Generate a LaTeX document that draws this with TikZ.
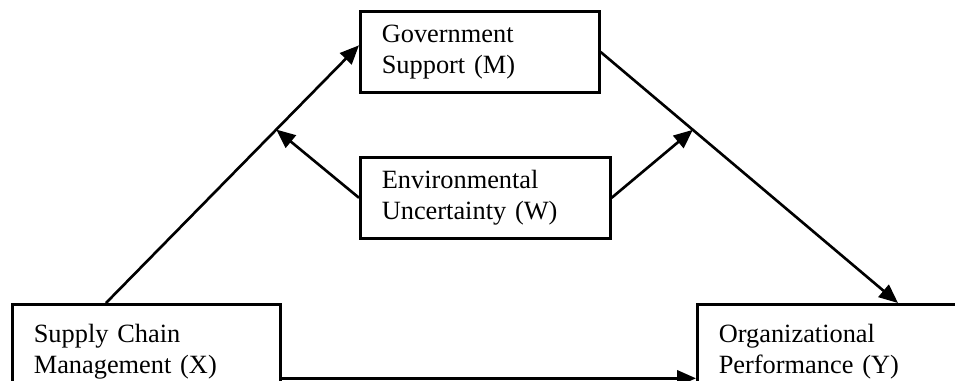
\documentclass[tikz,border=0pt]{standalone}
\usepackage{fontspec}
\setmainfont{Liberation Serif}
\usetikzlibrary{arrows.meta, positioning, calc}
\tikzstyle{boxNode} = [rectangle, draw=black, line width=1.5pt, anchor=north west, align=left, inner xsep=0.43cm, font=\fontsize{15}{17.6}\selectfont]
\tikzstyle{arrow} = [line width=1.5pt, -{Triangle[length=0.38cm,width=0.32cm]}, draw=black]

\begin{document}
\begin{tikzpicture}
        \useasboundingbox (0,0) rectangle (19.1,7.62);
        \clip (0,0) rectangle (19.1,7.62);
        \node (scm) [boxNode, minimum width=5.36cm, minimum height=1.88cm, text width=4.5cm] at (0.22,1.56)
            {Supply Chain\\Management (X)};
        \node (perf) [boxNode, minimum width=5.68cm, minimum height=1.88cm, text width=4.82cm] at (13.92,1.56)
            {Organizational\\Performance (Y)};
        \node (gov) [boxNode, minimum width=4.78cm, minimum height=1.62cm, text width=3.92cm] at (7.18,7.42)
            {Government\\Support (M)};
        \node (env) [boxNode, minimum width=5.0cm, minimum height=1.62cm, text width=4.14cm] at (7.18,4.5)
            {Environmental\\Uncertainty (W)};

        \coordinate (aStart) at ([xshift=1.9cm]scm.north west);
        \coordinate (aEnd) at ([yshift=0.13cm]gov.west);
        \coordinate (bStart) at ([yshift=-0.84cm]gov.north east);
        \coordinate (bEnd) at ([xshift=4.04cm]perf.north west);
        \coordinate (modA) at ($(aStart)!0.673!(aEnd)$);
        \coordinate (modB) at ($(bStart)!0.31!(bEnd)$);

        \draw [arrow] (aStart) -- (aEnd);
        \draw [arrow] (bStart) -- (bEnd);
        \draw [arrow] (env.west) -- (modA);
        \draw [arrow] (env.east) -- (modB);
        \draw [arrow] ([yshift=-0.54cm]scm.east) -- ([yshift=-0.54cm]perf.west);
    \end{tikzpicture}
\end{document}
